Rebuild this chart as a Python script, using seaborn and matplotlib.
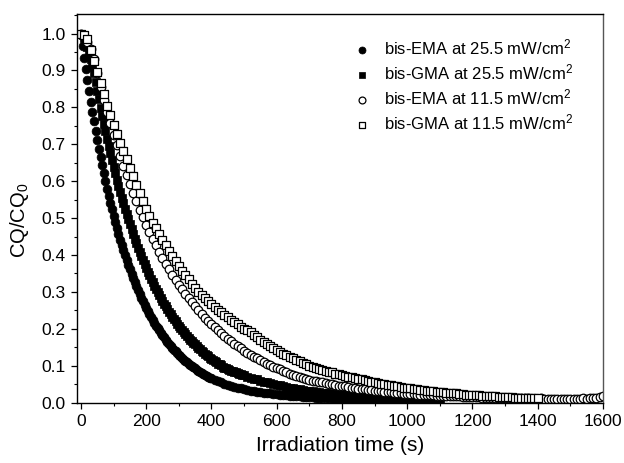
import numpy as np
import pandas as pd
import matplotlib
matplotlib.use("Agg")
import matplotlib.pyplot as plt
import seaborn as sns
from matplotlib.ticker import MultipleLocator

# ---------------- data ----------------
series_labels = [
    "bis-EMA at 25.5 mW/cm$^2$",
    "bis-GMA at 25.5 mW/cm$^2$",
    "bis-EMA at 11.5 mW/cm$^2$",
    "bis-GMA at 11.5 mW/cm$^2$",
]

# bis-EMA 25.5: every 5 s from 0 s, then every 10 s
ema25_fine = [1.000, 0.967, 0.934, 0.903, 0.873, 0.844, 0.815, 0.788, 0.762, 0.736,
              0.712, 0.688, 0.665, 0.643, 0.621, 0.601, 0.580, 0.561, 0.542, 0.524,
              0.507, 0.490, 0.473, 0.457, 0.442, 0.427, 0.413, 0.399, 0.386, 0.373,
              0.361, 0.349, 0.337, 0.326, 0.315, 0.304, 0.294, 0.284, 0.275, 0.266,
              0.257, 0.248, 0.240, 0.232, 0.224, 0.217, 0.209, 0.202, 0.196, 0.189,
              0.183, 0.177, 0.171, 0.165, 0.160, 0.154, 0.149, 0.144, 0.139, 0.135,
              0.130, 0.126, 0.122, 0.117, 0.114, 0.110, 0.106, 0.102, 0.099, 0.096,
              0.093, 0.089, 0.087, 0.084, 0.081, 0.078, 0.076, 0.073, 0.071, 0.068,
              0.066]
ema25_coarse = [0.062, 0.058, 0.055, 0.052, 0.049, 0.046, 0.043, 0.041, 0.039, 0.037,
                0.035, 0.033, 0.031, 0.030, 0.028, 0.027, 0.026, 0.025, 0.024, 0.023,
                0.022, 0.021, 0.020, 0.019, 0.018, 0.018, 0.017, 0.016, 0.016, 0.015,
                0.015, 0.014, 0.014, 0.013, 0.013, 0.012, 0.012, 0.011, 0.011, 0.010,
                0.010, 0.009, 0.009, 0.009, 0.008, 0.008, 0.008, 0.007, 0.007, 0.007,
                0.006, 0.006, 0.006, 0.006, 0.005, 0.005, 0.005, 0.005, 0.004, 0.004]

# bis-GMA 25.5: every 5 s from 0 s, then every 10 s
gma25_fine = [1.000, 0.995, 0.987, 0.976, 0.963, 0.948, 0.932, 0.915, 0.894, 0.869,
              0.845, 0.822, 0.799, 0.777, 0.756, 0.735, 0.715, 0.695, 0.676, 0.657,
              0.639, 0.621, 0.604, 0.587, 0.571, 0.555, 0.540, 0.525, 0.511, 0.497,
              0.483, 0.470, 0.457, 0.444, 0.432, 0.420, 0.408, 0.397, 0.386, 0.375,
              0.365, 0.355, 0.345, 0.336, 0.326, 0.317, 0.309, 0.300, 0.292, 0.284,
              0.276, 0.268, 0.261, 0.254, 0.247, 0.240, 0.233, 0.227, 0.220, 0.214,
              0.208, 0.203, 0.197, 0.192, 0.186, 0.181, 0.176, 0.171, 0.167, 0.162,
              0.158, 0.153, 0.149, 0.145, 0.141, 0.137, 0.133, 0.130, 0.126, 0.122,
              0.119, 0.116, 0.113, 0.109, 0.106, 0.104, 0.101, 0.098, 0.095, 0.093,
              0.091, 0.089, 0.087, 0.085, 0.084, 0.082, 0.080, 0.079, 0.077, 0.075,
              0.074]
gma25_coarse = [0.071, 0.068, 0.065, 0.063, 0.060, 0.057, 0.055, 0.053, 0.051, 0.049,
                0.047, 0.045, 0.043, 0.041, 0.039, 0.038, 0.036, 0.035, 0.033, 0.032,
                0.031, 0.029, 0.028, 0.027, 0.026, 0.025, 0.024, 0.023, 0.022, 0.021,
                0.020, 0.019, 0.019, 0.018, 0.017, 0.016, 0.016, 0.015, 0.014, 0.014,
                0.013, 0.013, 0.012, 0.012, 0.011, 0.011, 0.010, 0.010, 0.010, 0.009,
                0.009, 0.008, 0.008, 0.008, 0.007, 0.007, 0.007, 0.007, 0.006, 0.006]

# bis-EMA 11.5: every 10 s from 0 s
ema11 = [1.000, 0.993, 0.978, 0.958, 0.930, 0.892, 0.856, 0.821, 0.788, 0.757,
         0.726, 0.697, 0.669, 0.642, 0.616, 0.592, 0.568, 0.545, 0.523, 0.502,
         0.482, 0.463, 0.444, 0.426, 0.409, 0.393, 0.377, 0.362, 0.347, 0.333,
         0.320, 0.307, 0.295, 0.283, 0.272, 0.261, 0.250, 0.240, 0.230, 0.221,
         0.212, 0.204, 0.196, 0.188, 0.180, 0.173, 0.166, 0.159, 0.153, 0.147,
         0.141, 0.135, 0.130, 0.125, 0.120, 0.115, 0.110, 0.106, 0.102, 0.097,
         0.094, 0.090, 0.086, 0.083, 0.079, 0.076, 0.073, 0.070, 0.067, 0.065,
         0.062, 0.060, 0.058, 0.056, 0.055, 0.053, 0.051, 0.050, 0.048, 0.046,
         0.045, 0.044, 0.042, 0.041, 0.040, 0.038, 0.037, 0.036, 0.035, 0.034,
         0.033, 0.032, 0.031, 0.030, 0.029, 0.028, 0.027, 0.026, 0.025, 0.024,
         0.024, 0.023, 0.023, 0.022, 0.022, 0.021, 0.021, 0.020, 0.020, 0.019,
         0.019, 0.019, 0.018, 0.018, 0.017, 0.017, 0.017, 0.016, 0.016, 0.016,
         0.015, 0.015, 0.015, 0.014, 0.014, 0.014, 0.014, 0.013, 0.013, 0.013,
         0.013, 0.012, 0.012, 0.012, 0.012, 0.012, 0.012, 0.012, 0.011, 0.011,
         0.011, 0.012, 0.011, 0.011, 0.010, 0.011, 0.011, 0.010, 0.011, 0.011,
         0.011, 0.010, 0.011, 0.011, 0.012, 0.011, 0.012, 0.013, 0.014, 0.016,
         0.017]

# bis-GMA 11.5: every 10 s from 0 s
gma11 = [1.000, 0.997, 0.985, 0.955, 0.925, 0.896, 0.866, 0.836, 0.805, 0.778,
         0.752, 0.727, 0.704, 0.683, 0.661, 0.637, 0.613, 0.590, 0.567, 0.545,
         0.524, 0.505, 0.488, 0.472, 0.456, 0.441, 0.426, 0.412, 0.397, 0.384,
         0.371, 0.358, 0.346, 0.334, 0.322, 0.311, 0.301, 0.291, 0.283, 0.275,
         0.267, 0.259, 0.252, 0.245, 0.238, 0.231, 0.224, 0.218, 0.212, 0.206,
         0.201, 0.198, 0.191, 0.184, 0.178, 0.171, 0.165, 0.160, 0.154, 0.149,
         0.143, 0.138, 0.133, 0.129, 0.124, 0.120, 0.116, 0.112, 0.108, 0.104,
         0.100, 0.097, 0.094, 0.092, 0.089, 0.087, 0.084, 0.082, 0.079, 0.077,
         0.075, 0.073, 0.071, 0.069, 0.067, 0.065, 0.063, 0.061, 0.059, 0.057,
         0.055, 0.053, 0.052, 0.050, 0.048, 0.047, 0.045, 0.044, 0.043, 0.041,
         0.040, 0.039, 0.037, 0.036, 0.035, 0.034, 0.033, 0.032, 0.031, 0.030,
         0.029, 0.028, 0.027, 0.026, 0.026, 0.025, 0.024, 0.023, 0.022, 0.022,
         0.021, 0.020, 0.020, 0.019, 0.019, 0.018, 0.017, 0.017, 0.016, 0.016,
         0.015, 0.015, 0.015, 0.014, 0.014, 0.014, 0.013, 0.013, 0.013, 0.012,
         0.012]

x_ticks = [0, 200, 400, 600, 800, 1000, 1200, 1400, 1600]
y_ticks = [0.0, 0.1, 0.2, 0.3, 0.4, 0.5, 0.6, 0.7, 0.8, 0.9, 1.0]


def two_step_times(fine, coarse, fine_step, coarse_step):
    t_f = [fine_step * i for i in range(len(fine))]
    start = t_f[-1] + coarse_step
    t_c = [start + coarse_step * i for i in range(len(coarse))]
    return t_f + t_c, list(fine) + list(coarse)


t1, v1 = two_step_times(ema25_fine, ema25_coarse, 5, 10)
t2, v2 = two_step_times(gma25_fine, gma25_coarse, 5, 10)
t3 = [10 * i for i in range(len(ema11))]
t4 = [10 * i for i in range(len(gma11))]

frames = []
for lab, t, v in zip(series_labels, [t1, t2, t3, t4], [v1, v2, ema11, gma11]):
    frames.append(pd.DataFrame({"time": t, "cq": v, "series": lab}))
df = pd.concat(frames, ignore_index=True)

# ---------------- styling ----------------
sns.set_style("ticks")
plt.rcParams["font.family"] = ["Liberation Sans", "DejaVu Sans"]
plt.rcParams["mathtext.fontset"] = "custom"
plt.rcParams["mathtext.rm"] = "Liberation Sans"
plt.rcParams["mathtext.it"] = "Liberation Sans:italic"
plt.rcParams["mathtext.default"] = "regular"
plt.rcParams["text.color"] = "black"
plt.rcParams["axes.labelcolor"] = "black"
plt.rcParams["xtick.color"] = "black"
plt.rcParams["ytick.color"] = "black"

fig = plt.figure(figsize=(6.24, 4.63), dpi=100)
ax = fig.add_axes([0.1229, 0.1302, 0.8434, 0.8389])

styles = [
    dict(marker="o", s=40, color="black", edgecolor="black", linewidth=0.5),
    dict(marker="s", s=30, color="black", edgecolor="black", linewidth=0.5),
    dict(marker="o", s=38, color="white", edgecolor="black", linewidth=0.9),
    dict(marker="s", s=30, color="white", edgecolor="black", linewidth=0.9),
]
for lab, st in zip(series_labels, styles):
    sns.scatterplot(data=df[df["series"] == lab], x="time", y="cq", ax=ax,
                    label=lab, legend=False, **st)

ax.set_xlim(-13, 1600)
ax.set_ylim(0, 1.052)
ax.set_xticks(x_ticks)
ax.set_yticks(y_ticks)
ax.set_yticklabels([f"{y:.1f}" for y in y_ticks])
ax.xaxis.set_minor_locator(MultipleLocator(100))
ax.yaxis.set_minor_locator(MultipleLocator(0.05))
ax.tick_params(which="major", direction="out", length=4.5, width=0.9,
               labelsize=12.5, top=False, right=False)
ax.tick_params(which="minor", direction="out", length=2.5, width=0.8,
               top=False, right=False)
for sp in ax.spines.values():
    sp.set_visible(True)
    sp.set_color("black")
    sp.set_linewidth(1.0)
ax.spines["right"].set_color("#555555")

ax.set_xlabel("Irradiation time (s)", fontsize=15, labelpad=5)
ax.set_ylabel("CQ/CQ$_0$", fontsize=14.5)
ax.yaxis.set_label_coords(-0.087, 0.47)

ax.legend(loc="upper left", bbox_to_anchor=(0.514, 0.957), frameon=False,
          fontsize=12, handlelength=1.0, handletextpad=0.8, labelspacing=0.3,
          borderaxespad=0, borderpad=0.4, scatterpoints=1, markerscale=0.8)

fig.savefig("out.png", dpi=100)
